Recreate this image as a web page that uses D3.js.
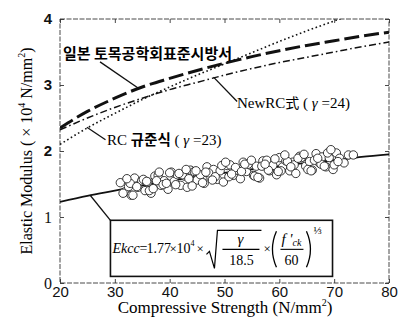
<!DOCTYPE html>
<html>
<head>
<meta charset="utf-8">
<script src="https://cdn.jsdelivr.net/npm/d3@7"></script>
<style>
  html, body { margin: 0; padding: 0; background: #fff; }
  svg { display: block; }
</style>
</head>
<body>
<svg id="chart" width="409" height="329"></svg>
<script>
// Compressive strength (N/mm²) sample points for the design curves
const strength = [20, 25, 30, 35, 40, 45, 50, 55, 60, 65, 70, 75, 80];
// Elastic modulus (×10⁴ N/mm²) for each design code
const jsceStd   = [2.35, 2.60, 2.80, 2.97, 3.10, 3.22, 3.33, 3.43, 3.52, 3.60, 3.67, 3.74, 3.80];
const newRC24   = [2.32, 2.50, 2.66, 2.80, 2.93, 3.04, 3.15, 3.25, 3.34, 3.42, 3.50, 3.58, 3.65];
const rcStd23   = [2.10, 2.35, 2.57, 2.78, 2.97, 3.15, 3.32, 3.49, 3.66, 3.82, 3.97, 4.12, 4.26];
const ekccFit   = [1.23, 1.32, 1.40, 1.48, 1.55, 1.61, 1.67, 1.72, 1.77, 1.82, 1.86, 1.91, 1.95];

// Test results: compressive strength and measured elastic modulus
const testStrength = [
  31.0, 31.8, 32.5, 33.0, 33.6, 34.2, 34.9, 35.5, 36.0, 36.6, 37.3, 37.9, 38.4, 39.0, 39.7,
  40.3, 40.8, 41.4, 42.0, 42.7, 43.2, 43.8, 44.5, 45.0, 45.6, 46.3, 46.8, 47.4, 48.0, 48.7,
  49.2, 49.8, 50.5, 51.0, 51.6, 52.2, 52.9, 53.4, 54.0, 54.6, 55.3, 55.8, 56.4, 57.0, 57.7,
  58.2, 58.8, 59.5, 60.0, 60.6, 61.2, 61.9, 62.4, 63.0, 63.7, 64.2, 64.8, 65.5, 66.0, 66.7,
  67.3, 67.8, 68.5, 69.1, 69.8, 70.4, 71.0, 71.8, 72.6, 73.5,
  31.5, 32.8, 34.0, 35.2, 36.3, 37.6, 38.8, 40.0, 41.1, 42.3, 43.5, 44.8, 46.0, 47.1, 48.3,
  49.5, 50.8, 52.0, 53.1, 54.3, 55.5, 56.8, 58.0, 59.2, 60.3, 61.5, 62.7, 64.0, 65.2, 66.4,
  67.6, 68.8, 70.0,
  32.2, 33.3, 35.8, 37.0, 38.1, 39.4, 41.7, 43.0, 44.1, 46.6, 47.8, 50.2, 51.3, 53.7, 54.9,
  56.1, 57.4, 59.8, 61.0, 62.1, 63.4, 64.5, 65.8, 67.0, 68.2, 69.4, 70.7
];
const testModulus = [
  1.52, 1.38, 1.46, 1.33, 1.59, 1.45, 1.55, 1.40, 1.53, 1.36, 1.62, 1.63, 1.48, 1.55, 1.42,
  1.68, 1.54, 1.64, 1.48, 1.62, 1.45, 1.71, 1.69, 1.56, 1.64, 1.51, 1.76, 1.62, 1.72, 1.57,
  1.70, 1.53, 1.78, 1.79, 1.63, 1.71, 1.58, 1.83, 1.69, 1.79, 1.63, 1.77, 1.59, 1.85, 1.86,
  1.70, 1.78, 1.64, 1.90, 1.76, 1.85, 1.70, 1.83, 1.66, 1.92, 1.91, 1.77, 1.84, 1.71, 1.96,
  1.82, 1.91, 1.76, 1.90, 1.72, 1.97, 1.89, 1.82, 1.94, 1.94,
  1.36, 1.51, 1.46, 1.57, 1.40, 1.55, 1.49, 1.67, 1.49, 1.64, 1.58, 1.70, 1.52, 1.67, 1.61,
  1.78, 1.61, 1.75, 1.69, 1.80, 1.62, 1.77, 1.71, 1.88, 1.70, 1.84, 1.79, 1.90, 1.72, 1.86,
  1.80, 1.97, 1.79,
  1.58, 1.33, 1.54, 1.43, 1.68, 1.51, 1.66, 1.72, 1.47, 1.68, 1.56, 1.83, 1.65, 1.80, 1.86,
  1.60, 1.80, 1.69, 1.94, 1.76, 1.89, 1.95, 1.70, 1.89, 1.77, 2.02, 1.84
];

const xTicks = [20, 30, 40, 50, 60, 70, 80];
const yTicks = [0, 1, 2, 3, 4];

const serif = "'Liberation Serif', 'Times New Roman', serif";
const sans = "'Liberation Sans', Arial, sans-serif";
const cjk = "'Noto Sans CJK KR', sans-serif";

const svg = d3.select("#chart");
const x = d3.scaleLinear().domain([20, 80]).range([60, 389]);
const y = d3.scaleLinear().domain([0, 4]).range([283, 19]);

svg.append("defs").append("clipPath").attr("id", "plot-clip")
  .append("rect")
  .attr("x", x(20)).attr("y", y(4))
  .attr("width", x(80) - x(20)).attr("height", y(0) - y(4));

// Axes with short inward ticks
const axisFont = g => g.selectAll("text").attr("font-family", sans).attr("font-size", 15).attr("fill", "#111");

const xAxis = svg.append("g").attr("transform", `translate(0,${y(0)})`)
  .call(d3.axisBottom(x).tickValues(xTicks).tickFormat(d3.format("d"))
    .tickSizeInner(-4).tickSizeOuter(0).tickPadding(3))
  .call(axisFont);
xAxis.select(".domain").remove();

const yAxis = svg.append("g").attr("transform", `translate(${x(20)},0)`)
  .call(d3.axisLeft(y).tickValues(yTicks).tickFormat(d3.format("d"))
    .tickSizeInner(-4).tickSizeOuter(0).tickPadding(8))
  .call(axisFont);
yAxis.select(".domain").remove();
yAxis.selectAll("text")
  .attr("font-weight", d => d >= 2 ? "bold" : "normal")
  .attr("font-family", d => d >= 2 ? sans : serif)
  .attr("font-size", d => d >= 2 ? 15 : 16);

const topAxis = svg.append("g").attr("transform", `translate(0,${y(4)})`)
  .call(d3.axisTop(x).tickValues(xTicks).tickSizeInner(-4).tickSizeOuter(0).tickFormat(""));
topAxis.select(".domain").remove();
const rightAxis = svg.append("g").attr("transform", `translate(${x(80)},0)`)
  .call(d3.axisRight(y).tickValues(yTicks).tickSizeInner(-4).tickSizeOuter(0).tickFormat(""));
rightAxis.select(".domain").remove();
svg.selectAll(".tick line").attr("stroke", "#333").attr("stroke-width", 0.9);

// Plot frame
svg.append("rect")
  .attr("x", x(20)).attr("y", y(4))
  .attr("width", x(80) - x(20)).attr("height", y(0) - y(4))
  .attr("fill", "none").attr("stroke", "#333").attr("stroke-width", 0.9)
  .attr("stroke-dasharray", "5,1.5");

// Design curves
const curves = svg.append("g").attr("clip-path", "url(#plot-clip)");
const line = d3.line().x((d, i) => x(strength[i])).y(d => y(d)).curve(d3.curveMonotoneX);

curves.append("path").datum(rcStd23).attr("d", line)
  .attr("fill", "none").attr("stroke", "#111").attr("stroke-width", 1.6)
  .attr("stroke-dasharray", "1.6,2.6");
curves.append("path").datum(newRC24).attr("d", line)
  .attr("fill", "none").attr("stroke", "#111").attr("stroke-width", 1.5)
  .attr("stroke-dasharray", "7,3,1.6,3");
curves.append("path").datum(jsceStd).attr("d", line)
  .attr("fill", "none").attr("stroke", "#111").attr("stroke-width", 3)
  .attr("stroke-dasharray", "15,5");
curves.append("path").datum(ekccFit).attr("d", line)
  .attr("fill", "none").attr("stroke", "#111").attr("stroke-width", 1.8);

// Test results as open circles
curves.append("g").selectAll("circle")
  .data(testStrength)
  .join("circle")
  .attr("cx", d => x(d))
  .attr("cy", (d, i) => y(testModulus[i]))
  .attr("r", 4.2)
  .attr("fill", "#fff")
  .attr("stroke", "#222")
  .attr("stroke-width", 0.9);

// Leader lines from labels to curves
const leader = (x1, y1, x2, y2) => svg.append("line")
  .attr("x1", x(x1)).attr("y1", y(y1)).attr("x2", x(x2)).attr("y2", y(y2))
  .attr("stroke", "#111").attr("stroke-width", 1.3);
leader(27.3, 3.35, 34.3, 2.95);   // JSCE standard
leader(52.3, 2.75, 48.0, 3.12);   // NewRC
leader(28.3, 2.17, 24.9, 2.36);   // RC standard
leader(29.2, 0.95, 25.5, 1.33);   // Ekcc fit

// Curve labels
svg.append("text").attr("x", 63).attr("y", 59)
  .attr("font-family", cjk).attr("font-weight", "bold").attr("font-size", 15).attr("fill", "#000")
  .text("일본 토목공학회표준시방서");

const newLab = svg.append("text").attr("x", 237).attr("y", 108)
  .attr("font-family", serif).attr("font-size", 15).attr("fill", "#000");
newLab.append("tspan").text("NewRC");
newLab.append("tspan").attr("font-family", cjk).attr("font-size", 14).text("式");
newLab.append("tspan").text(" ( ");
newLab.append("tspan").attr("font-style", "italic").text("γ");
newLab.append("tspan").text(" =24)");

const rcLab = svg.append("text").attr("x", 107).attr("y", 145)
  .attr("font-family", serif).attr("font-size", 15).attr("fill", "#000");
rcLab.append("tspan").text("RC ");
rcLab.append("tspan").attr("font-family", cjk).attr("font-weight", "bold").attr("font-size", 14.5).text("규준식");
rcLab.append("tspan").text(" (  ");
rcLab.append("tspan").attr("font-style", "italic").text("γ");
rcLab.append("tspan").text(" =23)");

// Formula box
const bx = x(29.2), by = y(0.95), bw = x(69.7) - x(29.2), bh = y(0.1) - y(0.95);
const box = svg.append("g");
box.append("rect").attr("x", bx).attr("y", by).attr("width", bw).attr("height", bh)
  .attr("fill", "#fff").attr("stroke", "#111").attr("stroke-width", 1.6);

const fy = by + bh / 2;  // fraction bar level
const ft = (tx, ty, str, opts = {}) => box.append("text")
  .attr("x", tx).attr("y", ty)
  .attr("font-family", serif).attr("font-size", opts.size || 15)
  .attr("font-style", opts.italic ? "italic" : "normal")
  .attr("text-anchor", opts.anchor || "start")
  .attr("fill", "#000").text(str);

const base = fy + 5;
ft(bx + 2, base, "Ekcc", { italic: true, size: 14 });
ft(bx + 29, base, "=", { size: 14 });
ft(bx + 36, base, "1.77", { size: 14 });
ft(bx + 59, base, "×", { size: 13 });
ft(bx + 66, base, "10", { size: 14 });
ft(bx + 80, base - 7, "4", { size: 8 });
ft(bx + 86, base, "×", { size: 13 });

// Square root of γ / 18.5
const rx = bx + 96;
box.append("path")
  .attr("d", `M${rx},${fy + 6} L${rx + 3},${fy + 3} L${rx + 8},${fy + 20} L${rx + 11},${fy - 18} L${rx + 55},${fy - 18}`)
  .attr("fill", "none").attr("stroke", "#000").attr("stroke-width", 1.2);
ft(rx + 34, fy - 4, "γ", { italic: true, anchor: "middle" });
box.append("line").attr("x1", rx + 16).attr("x2", rx + 53).attr("y1", fy + 1).attr("y2", fy + 1)
  .attr("stroke", "#000").attr("stroke-width", 1.1);
ft(rx + 35, fy + 17, "18.5", { anchor: "middle", size: 14 });

ft(bx + 153, base, "×", { size: 13 });

// (f'ck / 60)^(1/3)
const px = bx + 160;
box.append("path").attr("d", `M${px + 6},${fy - 17} Q${px - 2},${fy + 1} ${px + 6},${fy + 19}`)
  .attr("fill", "none").attr("stroke", "#000").attr("stroke-width", 1.3);
box.append("path").attr("d", `M${px + 36},${fy - 17} Q${px + 44},${fy + 1} ${px + 36},${fy + 19}`)
  .attr("fill", "none").attr("stroke", "#000").attr("stroke-width", 1.3);
const fck = box.append("text").attr("x", px + 21).attr("y", fy - 4)
  .attr("font-family", serif).attr("font-size", 15).attr("font-style", "italic")
  .attr("text-anchor", "middle").attr("fill", "#000");
fck.append("tspan").text("f '");
fck.append("tspan").attr("font-size", 10).attr("dy", 2).text("ck");
box.append("line").attr("x1", px + 10).attr("x2", px + 33).attr("y1", fy + 1).attr("y2", fy + 1)
  .attr("stroke", "#000").attr("stroke-width", 1.1);
ft(px + 21, fy + 17, "60", { anchor: "middle", size: 14 });
ft(px + 43, fy - 14, "⅓", { size: 11 });

// Axis titles
svg.append("text")
  .attr("transform", `translate(32,151) rotate(-90)`)
  .attr("text-anchor", "middle")
  .attr("font-family", serif).attr("font-size", 16).attr("fill", "#000")
  .call(t => {
    t.append("tspan").text("Elastic Modulus ( × 10");
    t.append("tspan").attr("font-size", 10).attr("dy", -7).text("4");
    t.append("tspan").attr("dy", 7).text(" N/mm");
    t.append("tspan").attr("font-size", 10).attr("dy", -7).text("2");
    t.append("tspan").attr("dy", 7).text(")");
  });

svg.append("text")
  .attr("x", 225).attr("y", 313)
  .attr("text-anchor", "middle")
  .attr("font-family", serif).attr("font-size", 17).attr("fill", "#000")
  .call(t => {
    t.append("tspan").text("Compressive Strength (N/mm");
    t.append("tspan").attr("font-size", 10).attr("dy", -7).text("2");
    t.append("tspan").attr("dy", 7).text(")");
  });
</script>
</body>
</html>
